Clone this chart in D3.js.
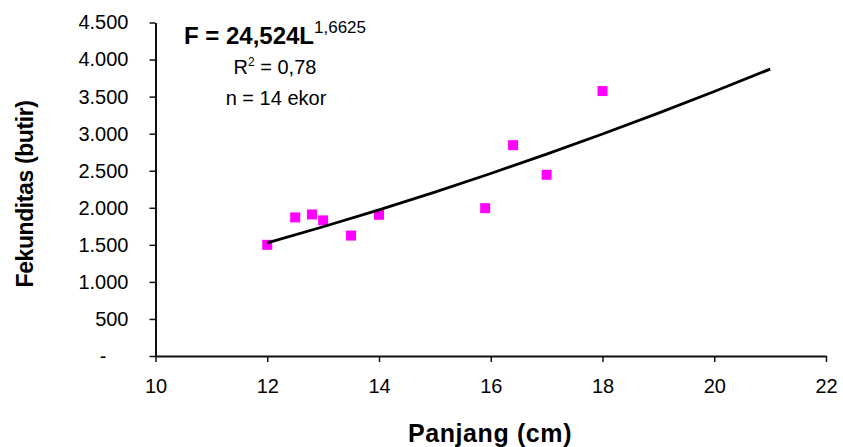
<!DOCTYPE html>
<html>
<head>
<meta charset="utf-8">
<script src="https://cdn.jsdelivr.net/npm/d3@7"></script>
<style>
    body { margin: 0; background: #fff; }
    text { font-family: Arial, "Liberation Sans", sans-serif; fill: #000; }
</style>
</head>
<body>
<svg id="svg"></svg>
<script>
'use strict';

// ================================= data ======================================
var panjang = [12, 12.5, 12.8, 13, 13.5, 14, 15.9, 16.4, 17, 18.0];
var fekunditas = [1500, 1870, 1910, 1830, 1625, 1905, 1995, 2845, 2445, 3575];

// trend line (power fit)
var trendX = [12, 13, 14, 15, 16, 17, 18, 19, 20, 21];
var trendY = [1526, 1744, 1972, 2212, 2463, 2724, 2996, 3277, 3569, 3871];

var xTicks = [10, 12, 14, 16, 18, 20, 22];
var yTicks = [0, 500, 1000, 1500, 2000, 2500, 3000, 3500, 4000, 4500];

var width = 843;
var height = 447;

var svg = d3.select("#svg")
    .attr("width", width)
    .attr("height", height);

var x = d3.scaleLinear().domain([10, 22]).range([155.5, 826]);
var y = d3.scaleLinear().domain([0, 4500]).range([356, 22.5]);

function yFormat(v) {
    if (v === 0) return "-";
    return d3.format(",")(v).replace(/,/g, ".");
}

// ================================= axes ======================================
var yAxis = svg.append("g")
    .attr("transform", "translate(" + x(10) + ",0)")
    .call(d3.axisLeft(y).tickValues(yTicks).tickSize(6).tickSizeOuter(0).tickPadding(21).tickFormat(yFormat));

var xAxis = svg.append("g")
    .attr("transform", "translate(0," + y(0) + ")")
    .call(d3.axisBottom(x).tickValues(xTicks).tickSize(6).tickSizeOuter(0).tickPadding(17));

[yAxis, xAxis].forEach((g) => {
    g.select(".domain").attr("stroke", "#111").attr("stroke-width", 2);
    g.selectAll(".tick line").attr("stroke", "#111").attr("stroke-width", 1.5);
    g.selectAll(".tick text")
        .attr("font-family", "Arial, 'Liberation Sans', sans-serif")
        .attr("font-size", 20)
        .attr("fill", "#000");
});

// the dash for zero sits further left, like excel accounting format
yAxis.selectAll(".tick text").filter(d => d === 0).attr("dx", -22);

// ================================= points ======================================
var pts = panjang.map((v, i) => ({ p: v, f: fekunditas[i] }));
var sz = 10;

svg.append("g")
    .selectAll("rect")
    .data(pts)
    .join("rect")
    .attr("x", d => x(d.p) - sz / 2)
    .attr("y", d => y(d.f) - sz / 2)
    .attr("width", sz)
    .attr("height", sz)
    .attr("fill", "#ff00ff");

// ================================= trend ======================================
// drawn after the points, it runs over them
var trend = trendX.map((v, i) => [v, trendY[i]]);

svg.append("path")
    .datum(trend)
    .attr("fill", "none")
    .attr("stroke", "#000")
    .attr("stroke-width", 2.8)
    .attr("d", d3.line().x(d => x(d[0])).y(d => y(d[1])).curve(d3.curveMonotoneX));

// ================================= labels ======================================
var eq = svg.append("text")
    .attr("x", 275)
    .attr("y", 44)
    .attr("text-anchor", "middle");
eq.append("tspan").attr("font-weight", "bold").attr("font-size", 24).text("F = 24,524L");
eq.append("tspan").attr("font-size", 17).attr("dy", -11).text("1,6625");

var r2 = svg.append("text")
    .attr("x", 275)
    .attr("y", 74)
    .attr("text-anchor", "middle")
    .attr("font-size", 20);
r2.append("tspan").text("R");
r2.append("tspan").attr("font-size", 12).attr("dy", -8).text("2");
r2.append("tspan").attr("dy", 8).text(" = 0,78");

svg.append("text")
    .attr("x", 276)
    .attr("y", 105)
    .attr("text-anchor", "middle")
    .attr("font-size", 20)
    .text("n = 14 ekor");

svg.append("text")
    .attr("x", 490)
    .attr("y", 442)
    .attr("text-anchor", "middle")
    .attr("font-weight", "bold")
    .attr("font-size", 25)
    .attr("letter-spacing", 0.6)
    .text("Panjang (cm)");

svg.append("text")
    .attr("transform", "translate(33,194) rotate(-90)")
    .attr("text-anchor", "middle")
    .attr("font-weight", "bold")
    .attr("font-size", 23)
    .attr("letter-spacing", -0.4)
    .text("Fekunditas (butir)");
</script>
</body>
</html>
